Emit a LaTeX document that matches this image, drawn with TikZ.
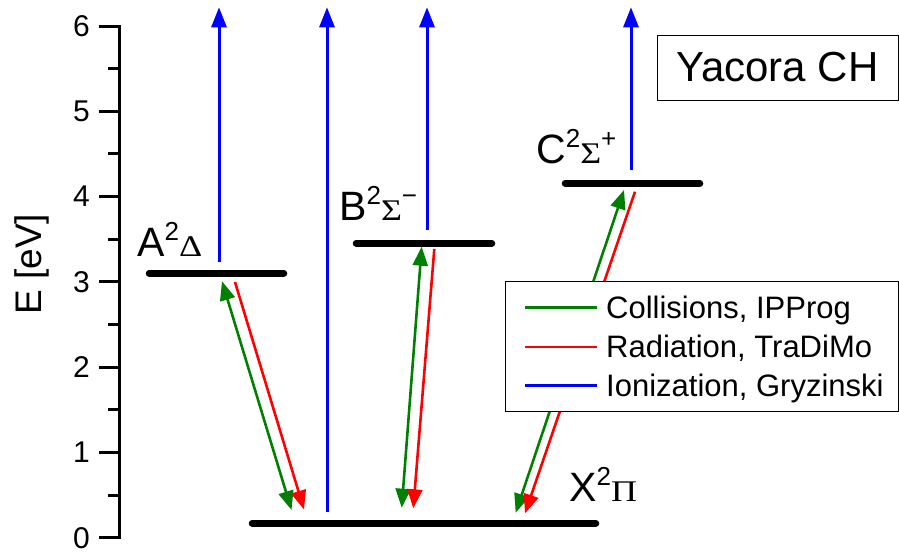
\documentclass[tikz,border=0pt]{standalone}
\usepackage{fontspec}
\setmainfont{Liberation Sans}
\newfontfamily\greekfont{Liberation Serif}
\usepackage{tikz}
\usetikzlibrary{arrows.meta}
\usepackage{xcolor}
\definecolor{collgreen}{RGB}{0, 128, 0}
\definecolor{radred}{RGB}{255, 0, 0}
\definecolor{ionblue}{RGB}{0, 0, 255}

% term symbol: letter, superscript 2, greek letter, optional sign
\newcommand{\termsym}[3]{#1\raisebox{16pt}{\fontsize{26}{26}\selectfont 2}%
  {\greekfont\fontsize{30}{30}\selectfont\scalebox{1.2}[1]{#2}}%
  \raisebox{16pt}{\fontsize{26}{26}\selectfont #3}}

\tikzset{
  axisline/.style={line width=3pt, line cap=rect},
  ticklabel/.style={anchor=east, inner sep=0pt, font=\fontsize{30}{30}\selectfont},
  level/.style={line width=6.5pt, line cap=round},
  termlabel/.style={anchor=base west, inner sep=0pt, font=\fontsize{41}{41}\selectfont},
  coll/.style={collgreen, line width=2.6pt, {Triangle[length=19pt, width=15pt]}-{Triangle[length=19pt, width=15pt]}},
  rad/.style={radred, line width=2.6pt, -{Triangle[length=19pt, width=15pt]}},
  ion/.style={ionblue, line width=3pt, -{Triangle[length=20pt, width=15pt]}},
  legtext/.style={anchor=base west, inner sep=0pt, font=\fontsize{31}{31}\selectfont}
}

\begin{document}
\begin{tikzpicture}[x=1pt, y=85.27pt]
    \useasboundingbox (0,-0.156) rectangle (899,6.306);

    % energy axis
    \draw[axisline] (119,0) -- (119,6);
    \foreach \e in {0,...,6} {
        \draw[axisline] (100,\e) -- (119,\e);
        \node[ticklabel] (tick\e) at (90,\e) {\e};
    }
    \foreach \e in {0.5,1.5,...,5.5}
        \draw[axisline] (109,\e) -- (119,\e);
    \node[rotate=90, font=\fontsize{37}{37}\selectfont] (ylabel) at (31.7,3.209) {E [eV]};

    % electronic levels
    \coordinate (Xl) at (252,0.169); \coordinate (Xr) at (596,0.169);
    \coordinate (Al) at (149,3.101); \coordinate (Ar) at (284,3.101);
    \coordinate (Bl) at (356,3.453); \coordinate (Br) at (492,3.453);
    \coordinate (Cl) at (565,4.156); \coordinate (Cr) at (700,4.156);
    \draw[level] (Xl) -- (Xr);
    \draw[level] (Al) -- (Ar);
    \draw[level] (Bl) -- (Br);
    \draw[level] (Cl) -- (Cr);

    \node[termlabel] (Alab) at (137,3.295) {\termsym{A}{Δ}{}};
    \node[termlabel] (Blab) at (339,3.718) {\termsym{B}{Σ}{−}};
    \node[termlabel] (Clab) at (536,4.391) {\termsym{C}{Σ}{+}};
    \node[termlabel] (Xlab) at (569,0.422) {\termsym{X}{Π}{}};

    % ionization
    \coordinate (ionA) at (219,3.237); \coordinate (ionAtop) at (219,6.22);
    \coordinate (ionX) at (327,0.301); \coordinate (ionXtop) at (327,6.22);
    \coordinate (ionB) at (427,3.609); \coordinate (ionBtop) at (427,6.22);
    \coordinate (ionC) at (631,4.31);  \coordinate (ionCtop) at (631,6.22);
    \draw[ion] (ionA) -- (ionAtop);
    \draw[ion] (ionX) -- (ionXtop);
    \draw[ion] (ionB) -- (ionBtop);
    \draw[ion] (ionC) -- (ionCtop);

    % collisions and radiation
    \coordinate (collAu) at (222,3.008);   \coordinate (collAd) at (291.5,0.325);
    \coordinate (radAu) at (235,2.999);    \coordinate (radAd) at (304,0.331);
    \coordinate (collBu) at (421.7,3.413); \coordinate (collBd) at (401.7,0.352);
    \coordinate (radBu) at (434.3,3.386);  \coordinate (radBd) at (413.3,0.345);
    \coordinate (collCu) at (624,4.078);   \coordinate (collCd) at (515.7,0.293);
    \coordinate (radCu) at (635,4.058);    \coordinate (radCd) at (525,0.286);
    \draw[coll] (collAu) -- (collAd);
    \draw[rad] (radAu) -- (radAd);
    \draw[coll] (collBu) -- (collBd);
    \draw[rad] (radBu) -- (radBd);
    \draw[coll] (collCu) -- (collCd);
    \draw[rad] (radCu) -- (radCd);

    % legend
    \node[draw, line width=1pt, fill=white, minimum width=393pt, minimum height=130.7pt,
          inner sep=0pt] (legend) at (701.5,2.244) {};
    \draw[collgreen, line width=2.6pt] (525,2.702) -- (597,2.702);
    \draw[radred, line width=2.6pt] (525,2.238) -- (597,2.238);
    \draw[ionblue, line width=2.6pt] (525,1.783) -- (597,1.783);
    \node[legtext] (legcoll) at (606,2.573) {Collisions, IPProg};
    \node[legtext] (legrad) at (606,2.116) {Radiation, TraDiMo};
    \node[legtext] (legion) at (606,1.658) {Ionization, Gryzinski};

    \node[draw, line width=1pt, minimum width=241pt, minimum height=65pt,
          font=\fontsize{42}{42}\selectfont] (title) at (777.5,5.514) {Yacora CH};
\end{tikzpicture}
\end{document}
